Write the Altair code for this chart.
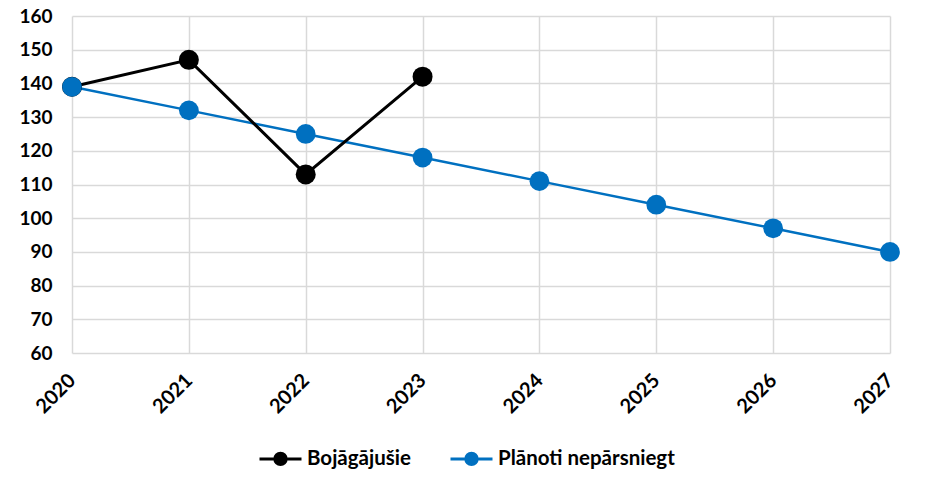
import altair as alt
import pandas as pd

years = ["2020", "2021", "2022", "2023", "2024", "2025", "2026", "2027"]
actual_years = ["2020", "2021", "2022", "2023"]
actual_values = [139, 147, 113, 142]
planned_values = [139, 132, 125, 118, 111, 104, 97, 90]
series_names = ["Bojāgājušie", "Plānoti nepārsniegt"]
series_colors = ["#000000", "#0070C0"]

df = pd.concat([
    pd.DataFrame({"year": actual_years, "value": actual_values, "series": series_names[0]}),
    pd.DataFrame({"year": years, "value": planned_values, "series": series_names[1]}),
])

FONT = "Lato"

x = alt.X("year:O", scale=alt.Scale(domain=years, type="point", padding=0),
          axis=alt.Axis(title=None, labelAngle=-45, labelAlign="right", labelBaseline="middle",
                        labelFontSize=20, labelFontWeight="bold", labelFont=FONT, labelColor="#000",
                        ticks=False, domain=False, grid=True, gridColor="#d9d9d9", gridWidth=1.5,
                        labelPadding=24, labelLimit=200))
y = alt.Y("value:Q", scale=alt.Scale(domain=[60, 160], nice=False, zero=False),
          axis=alt.Axis(title=None, values=list(range(60, 161, 10)), labelFontSize=19,
                        labelFontWeight="bold", labelFont=FONT, labelColor="#000",
                        ticks=False, domain=False, grid=True, gridColor="#d9d9d9", gridWidth=1.5,
                        labelPadding=20))
color = alt.Color("series:N", scale=alt.Scale(domain=series_names, range=series_colors),
                  legend=alt.Legend(title=None, orient="none", direction="horizontal",
                                    legendX=186, legendY=420, labelLimit=400,
                                    labelFont=FONT, labelFontSize=20.5, labelFontWeight="bold",
                                    labelColor="#000", columnPadding=33, labelOffset=4,
                                    symbolType="M-1,0H1M-0.27,0A0.27,0.27 0 1,1 0.27,0A0.27,0.27 0 1,1 -0.27,0",
                                    symbolSize=1764, symbolStrokeWidth=3))

base = alt.Chart(df).encode(x=x, y=y, color=color)
blue = alt.datum.series == series_names[1]
black = alt.datum.series == series_names[0]
line_blue = base.mark_line(strokeWidth=2.5).transform_filter(blue)
line_black = base.mark_line(strokeWidth=3).transform_filter(black)
pts_black = base.mark_circle(opacity=1).encode(size=alt.value(400)).transform_filter(black)
pts_blue = base.mark_circle(opacity=1).encode(size=alt.value(390)).transform_filter(blue)

chart = alt.layer(line_blue, line_black, pts_black, pts_blue).properties(
    width=818, height=337,
    padding={"left": 64, "top": 8, "right": 10, "bottom": 127},
    autosize=alt.AutoSizeParams(type="none"),
).configure_view(stroke=None).configure_legend(symbolSize=1764)

chart.save("out.html", embed_options={"renderer": "svg", "actions": False})
